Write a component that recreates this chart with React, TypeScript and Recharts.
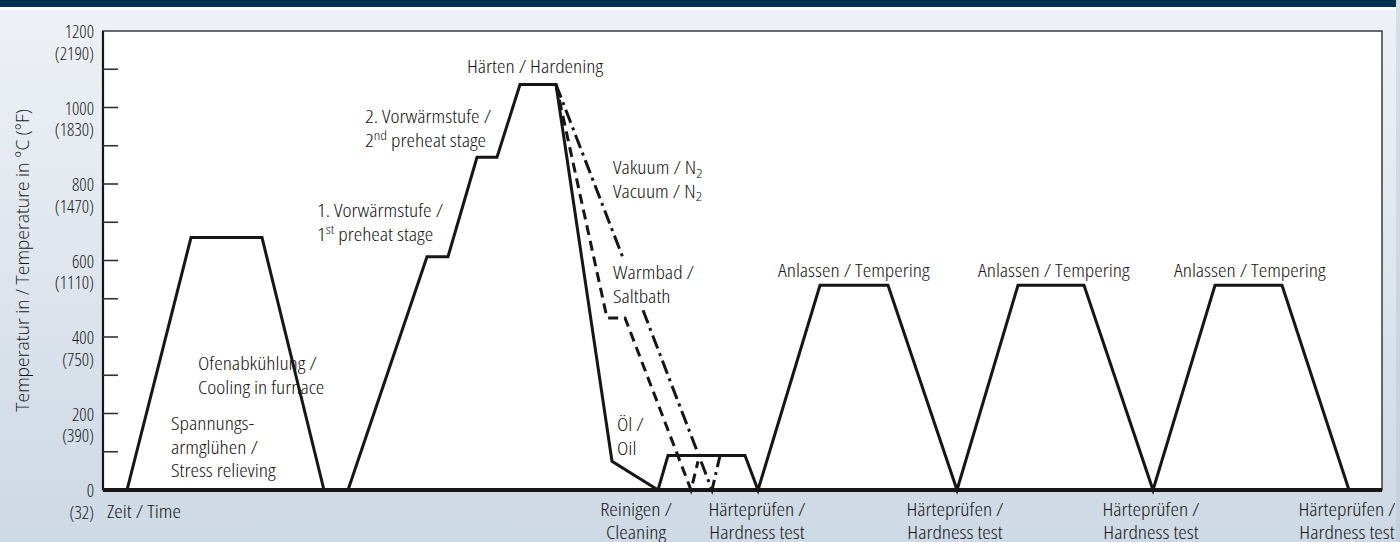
import React from "react";
import { LineChart, Line, XAxis, YAxis, ReferenceArea, ReferenceDot } from "recharts";

const FONT = '"Open Sans", "Noto Sans", sans-serif';
const INK = "#161616";
// condensed face, widened a little to match the reference lettering
const TXT: React.CSSProperties = { fontFamily: FONT, fontSize: 17.5, fontStretch: "75%", fontWeight: 300 };
const SX = 1.23;
const NUM: React.CSSProperties = { fontFamily: FONT, fontSize: 18, fontStretch: "75%", fontWeight: 300 };

// time in arbitrary units, temperature in °C
const mainTime = [0, 24, 88, 159, 221, 245, 324, 345, 374, 394, 417, 453, 509, 555, 565, 642, 655, 717, 785, 854, 915, 981, 1050, 1112, 1179, 1246, 1279];
const mainTemp = [0, 0, 660, 660, 0, 0, 610, 610, 870, 870, 1060, 1060, 75, 0, 90, 90, 0, 535, 535, 0, 535, 535, 0, 535, 535, 0, 0];

const saltTime = [453, 504, 522, 588, 595];
const saltTemp = [1060, 450, 450, 0, 75];

const vacTime = [453, 521, 530, 540, 609, 617];
const vacTemp = [1060, 600, null, 470, 0, 90];

const celsiusTicks = [0, 100, 200, 300, 400, 500, 600, 700, 800, 900, 1000, 1100, 1200];
const fahrenheit: Record<number, string> = { 0: "32", 200: "390", 400: "750", 600: "1110", 800: "1470", 1000: "1830", 1200: "2190" };

const timeTicks = [4, 533, 654, 852, 1048, 1244];
const timeLabels = [
  ["Zeit / Time"],
  ["Reinigen /", "Cleaning"],
  ["Härteprüfen /", "Hardness test"],
  ["Härteprüfen /", "Hardness test"],
  ["Härteprüfen /", "Hardness test"],
  ["Härteprüfen /", "Hardness test"],
];

// ^x^ = superscript, _x_ = subscript
const notes = [
  { t: 364, T: 1108, lines: ["Härten / Hardening"] },
  { t: 262, T: 978, lines: ["2. Vorwärmstufe /", "2^nd^preheat stage"] },
  { t: 510, T: 844, lines: ["Vakuum / N_2_", "Vacuum / N_2_"] },
  { t: 214, T: 732, lines: ["1. Vorwärmstufe /", "1^st^preheat stage"] },
  { t: 510, T: 570, lines: ["Warmbad /", "Saltbath"] },
  { t: 675, T: 576, lines: ["Anlassen / Tempering"] },
  { t: 875, T: 576, lines: ["Anlassen / Tempering"] },
  { t: 1071, T: 576, lines: ["Anlassen / Tempering"] },
  { t: 95, T: 332, lines: ["Ofenabkühlung /", "Cooling in furnace"] },
  { t: 68, T: 175, lines: ["Spannungs-", "armglühen /", "Stress relieving"] },
  { t: 514, T: 172, lines: ["Öl /", "Oil"] },
];

const toRows = (ts: number[], vs: (number | null)[]) => ts.map((t, i) => ({ t, v: vs[i] }));

function RichLine({ text }: { text: string }) {
  const parts = text.split(/(\^[^^]+\^|_[^_]+_)/).filter(Boolean);
  return (
    <>
      {parts.map((p, i) => {
        if (p.startsWith("^") && p.length > 2) {
          return (
            <React.Fragment key={i}>
              <tspan dy={-5} fontSize={12.5}>{p.slice(1, -1)}</tspan>
              <tspan dy={5}>{" "}</tspan>
            </React.Fragment>
          );
        }
        if (p.startsWith("_") && p.length > 2) {
          return (
            <tspan key={i} dy={5} fontSize={12.5}>{p.slice(1, -1)}</tspan>
          );
        }
        return <tspan key={i}>{p}</tspan>;
      })}
    </>
  );
}

function Note({ cx, cy, lines }: { cx: number; cy: number; lines: string[] }) {
  return (
    <g transform={`translate(${cx} ${cy}) scale(${SX} 1)`}>
      {lines.map((ln, i) => (
        <text key={i} x={0} y={i * 23.5} style={TXT} fill={INK} dominantBaseline="central">
          <RichLine text={ln} />
        </text>
      ))}
    </g>
  );
}

function YTick(props: any) {
  const { x, y, payload } = props;
  const v = payload.value as number;
  const axisX = x + 9;
  return (
    <g>
      {v !== 0 && v !== 1200 && <line x1={axisX} x2={axisX + 15} y1={y} y2={y} stroke="#333" strokeWidth={1.6} />}
      {fahrenheit[v] !== undefined && (
        <text x={x} y={y} textAnchor="end" style={NUM} fill={INK} dominantBaseline="central">
          <tspan x={x}>{v}</tspan>
          <tspan x={x} dy={21.5}>({fahrenheit[v]})</tspan>
        </text>
      )}
    </g>
  );
}

function XTick(props: any) {
  const { x, y, index } = props;
  const lines = timeLabels[index] || [];
  const anchor = index === 0 ? "start" : "middle";
  const first = lines.length === 1 ? 21 : 19;
  return (
    <g transform={`translate(${x} ${y}) scale(${SX} 1)`}>
      <text x={0} y={0} textAnchor={anchor} style={TXT} fill={INK} dominantBaseline="central">
        {lines.map((ln, i) => (
          <tspan key={i} x={0} dy={i === 0 ? first : 22.5}>{ln}</tspan>
        ))}
      </text>
    </g>
  );
}

export default function App() {
  return (
    <div
      style={{
        position: "absolute",
        left: 0,
        top: 0,
        width: 1400,
        height: 542,
        overflow: "hidden",
        background: "linear-gradient(to bottom, #eef1f6 0%, #e7ecf2 25%, #d9e1ea 65%, #cdd9e4 100%)",
      }}
    >
      <div style={{ position: "absolute", left: 0, top: 0, width: 1396, height: 7, background: "#00304e" }} />
      <div style={{ position: "absolute", left: 0, top: 7, width: 1396, height: 3, background: "#ffffff" }} />
      <div style={{ position: "absolute", left: 1396, top: 0, width: 4, height: 542, background: "linear-gradient(to bottom, #d8dee6, #c4cfda)" }} />
      <div style={{ position: "absolute", left: 0, top: 0 }}>
        <LineChart width={1400} height={542} margin={{ top: 31, right: 18, bottom: 7, left: 18 }}>
          <ReferenceArea x1={0} x2={1279} y1={0} y2={1200} fill="#ffffff" fillOpacity={1} stroke="#3a3a3a" strokeWidth={1.5} />
          <XAxis
            type="number"
            dataKey="t"
            domain={[0, 1279]}
            ticks={timeTicks}
            interval={0}
            height={45}
            tickSize={0}
            tickMargin={0}
            tickLine={false}
            axisLine={{ stroke: INK, strokeWidth: 4 }}
            tick={<XTick />}
          />
          <YAxis
            type="number"
            domain={[0, 1200]}
            ticks={celsiusTicks}
            interval={0}
            width={85}
            tickSize={0}
            tickMargin={9}
            tickLine={false}
            axisLine={{ stroke: INK, strokeWidth: 2.2 }}
            tick={<YTick />}
            label={{
              value: "Temperatur in / Temperature in °C (°F)",
              angle: -90,
              position: "insideLeft",
              offset: 5,
              style: { fontFamily: FONT, fontSize: 17.5, fontWeight: 300, fill: INK, textAnchor: "middle" },
            }}
          />
          {notes.map((n, i) => (
            <ReferenceDot
              key={i}
              x={n.t}
              y={n.T}
              r={0}
              shape={(p: any) => <Note cx={p.cx} cy={p.cy} lines={n.lines} />}
            />
          ))}
          <Line
            data={toRows(vacTime, vacTemp)}
            dataKey="v"
            type="linear"
            stroke={INK}
            strokeWidth={3}
            strokeDasharray="14 5 3 5"
            dot={false}
            connectNulls={false}
            isAnimationActive={false}
          />
          <Line
            data={toRows(saltTime, saltTemp)}
            dataKey="v"
            type="linear"
            stroke={INK}
            strokeWidth={3}
            strokeDasharray="10 6"
            dot={false}
            isAnimationActive={false}
          />
          <Line
            data={toRows(mainTime, mainTemp)}
            dataKey="v"
            type="linear"
            stroke={INK}
            strokeWidth={3}
            dot={false}
            isAnimationActive={false}
          />
        </LineChart>
      </div>
    </div>
  );
}
